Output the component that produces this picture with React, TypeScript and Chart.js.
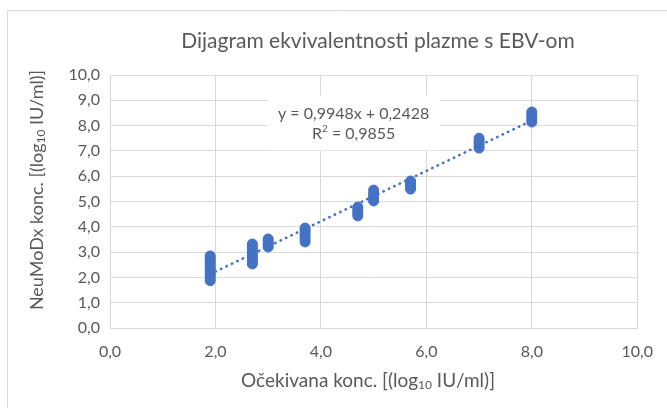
import React, { useEffect, useRef } from "react";
import { Chart, registerables } from "chart.js";

Chart.register(...registerables);

// ---- data ----
const chartTitle = "Dijagram ekvivalentnosti plazme s EBV-om";
const xTitleParts: [string, boolean][] = [["Očekivana konc. [(log", false], ["10", true], [" IU/ml)]", false]];
const yTitleParts: [string, boolean][] = [["NeuMoDx konc. [(log", false], ["10", true], [" IU/ml)]", false]];

const expectedConc = [1.9, 2.7, 3.0, 3.7, 4.7, 5.0, 5.7, 7.0, 8.0];
const measured19 = [1.87, 1.97, 2.08, 2.18, 2.28, 2.38, 2.48, 2.58, 2.68, 2.77, 2.85];
const measured27 = [2.53, 2.62, 2.72, 2.81, 2.9, 3.0, 3.1, 3.2, 3.32];
const measured30 = [3.2, 3.28, 3.36, 3.44, 3.52];
const measured37 = [3.4, 3.5, 3.6, 3.7, 3.8, 3.88, 3.95];
const measured47 = [4.43, 4.52, 4.6, 4.7, 4.78];
const measured50 = [5.02, 5.12, 5.22, 5.32, 5.45];
const measured57 = [5.49, 5.58, 5.66, 5.74, 5.81];
const measured70 = [7.11, 7.2, 7.3, 7.4, 7.5];
const measured80 = [8.14, 8.24, 8.34, 8.44, 8.54];
const measuredByLevel = [measured19, measured27, measured30, measured37, measured47, measured50, measured57, measured70, measured80];

const trendX = [1.9, 8.0];
const trendY = [2.13, 8.2];
const trendEquation = "y = 0,9948x + 0,2428";
const rSquaredParts = ["R", "2", " = 0,9855"];

const xTicks = [0, 2, 4, 6, 8, 10];
const yTicks = [0, 1, 2, 3, 4, 5, 6, 7, 8, 9, 10];

// ---- style ----
const FONT = "Lato";
const TEXT = "#595959";
const GRID = "#d9d9d9";
const BLUE = "#4472C4";

const fmt = (v: number) => v.toFixed(1).replace(".", ",");

function drawParts(ctx: CanvasRenderingContext2D, parts: [string, boolean][], cx: number, cy: number, size: number) {
  const sub = Math.round(size * 0.65);
  let total = 0;
  for (const [t, s] of parts) {
    ctx.font = `${s ? sub : size}px ${FONT}`;
    total += ctx.measureText(t).width;
  }
  let x = cx - total / 2;
  ctx.textAlign = "left";
  ctx.textBaseline = "middle";
  for (const [t, s] of parts) {
    ctx.font = `${s ? sub : size}px ${FONT}`;
    ctx.fillText(t, x, s ? cy + size * 0.22 : cy);
    x += ctx.measureText(t).width;
  }
}

const decorPlugin = {
  id: "decor",
  beforeDatasetsDraw(chart: any) {
    const ctx: CanvasRenderingContext2D = chart.ctx;
    const xs = chart.scales.x;
    const ys = chart.scales.y;
    // annotation label box (white, covers gridlines)
    const cx = xs.getPixelForValue(5.0) - 20;
    const cy = ys.getPixelForValue(8.8) + 8;
    ctx.save();
    ctx.fillStyle = "#ffffff";
    ctx.fillRect(cx - 86, cy - 18, 172, 55);
    ctx.fillStyle = TEXT;
    const size = 16;
    const supSize = 10;
    ctx.font = `${size}px ${FONT}`;
    ctx.textAlign = "center";
    ctx.textBaseline = "middle";
    ctx.fillText(trendEquation, cx, cy);
    // R² line
    const w1 = ctx.measureText(rSquaredParts[0]).width;
    const w3 = ctx.measureText(rSquaredParts[2]).width;
    ctx.font = `${supSize}px ${FONT}`;
    const w2 = ctx.measureText(rSquaredParts[1]).width;
    let x = cx - (w1 + w2 + w3) / 2;
    const y2 = cy + 20;
    ctx.textAlign = "left";
    ctx.font = `${size}px ${FONT}`;
    ctx.fillText(rSquaredParts[0], x, y2);
    x += w1;
    ctx.font = `${supSize}px ${FONT}`;
    ctx.fillText(rSquaredParts[1], x, y2 - 5);
    x += w2;
    ctx.font = `${size}px ${FONT}`;
    ctx.fillText(rSquaredParts[2], x, y2);
    ctx.restore();
  },
  afterDraw(chart: any) {
    const ctx: CanvasRenderingContext2D = chart.ctx;
    const area = chart.chartArea;
    ctx.save();
    // outer chart border
    ctx.strokeStyle = GRID;
    ctx.lineWidth = 1;
    ctx.beginPath();
    ctx.moveTo(7.5, chart.height);
    ctx.lineTo(7.5, 10.5);
    ctx.lineTo(chart.width, 10.5);
    ctx.stroke();
    // title
    ctx.fillStyle = TEXT;
    ctx.font = `21px ${FONT}`;
    ctx.textAlign = "center";
    ctx.textBaseline = "middle";
    ctx.fillText(chartTitle, 378, 41);
    // x axis title
    drawParts(ctx, xTitleParts, 368, 381, 19);
    // y axis title
    ctx.translate(37, 190);
    ctx.rotate(-Math.PI / 2);
    drawParts(ctx, yTitleParts, 0, 0, 18);
    ctx.restore();
  },
};

export default function App() {
  const ref = useRef<HTMLCanvasElement>(null);
  useEffect(() => {
    if (!ref.current) return;
    const points: { x: number; y: number }[] = [];
    expectedConc.forEach((xv, i) => measuredByLevel[i].forEach((yv) => points.push({ x: xv, y: yv })));
    const trend = trendX.map((xv, i) => ({ x: xv, y: trendY[i] }));
    const chart = new Chart(ref.current, {
      type: "scatter",
      data: {
        datasets: [
          {
            data: points,
            backgroundColor: BLUE,
            borderColor: BLUE,
            borderWidth: 1,
            pointRadius: 5,
            showLine: false,
            order: 2,
          },
          {
            data: trend,
            showLine: true,
            borderColor: BLUE,
            borderWidth: 2.6,
            borderDash: [0.4, 5.6],
            borderCapStyle: "round",
            pointRadius: 0,
            order: 1,
          } as any,
        ],
      },
      options: {
        responsive: false,
        animation: false,
        layout: { padding: { top: 75, right: 26, left: 0, bottom: 0 } },
        plugins: { legend: { display: false }, tooltip: { enabled: false }, title: { display: false } },
        scales: {
          x: {
            type: "linear",
            min: 0,
            max: 10,
            afterBuildTicks: (s: any) => {
              s.ticks = xTicks.map((v) => ({ value: v }));
            },
            afterFit: (s: any) => {
              s.height = 80;
            },
            grid: { color: GRID, lineWidth: 1, drawTicks: false },
            border: { color: GRID, width: 1 },
            ticks: {
              padding: 14,
              color: TEXT,
              font: { family: FONT, size: 16 },
              callback: (v: any) => fmt(Number(v)),
              maxRotation: 0,
            },
          },
          y: {
            type: "linear",
            min: 0,
            max: 10,
            afterBuildTicks: (s: any) => {
              s.ticks = yTicks.map((v) => ({ value: v }));
            },
            afterFit: (s: any) => {
              s.width = 110;
            },
            grid: { color: GRID, lineWidth: 1, drawTicks: false },
            border: { color: GRID, width: 1 },
            ticks: {
              padding: 10,
              color: TEXT,
              font: { family: FONT, size: 16 },
              callback: (v: any) => fmt(Number(v)),
            },
          },
        },
      },
      plugins: [decorPlugin],
    });
    return () => chart.destroy();
  }, []);
  return (
    <div style={{ position: "absolute", left: 0, top: 0, width: 667, height: 408, background: "#fff" }}>
      <canvas ref={ref} width={667} height={408} style={{ display: "block" }} />
    </div>
  );
}
